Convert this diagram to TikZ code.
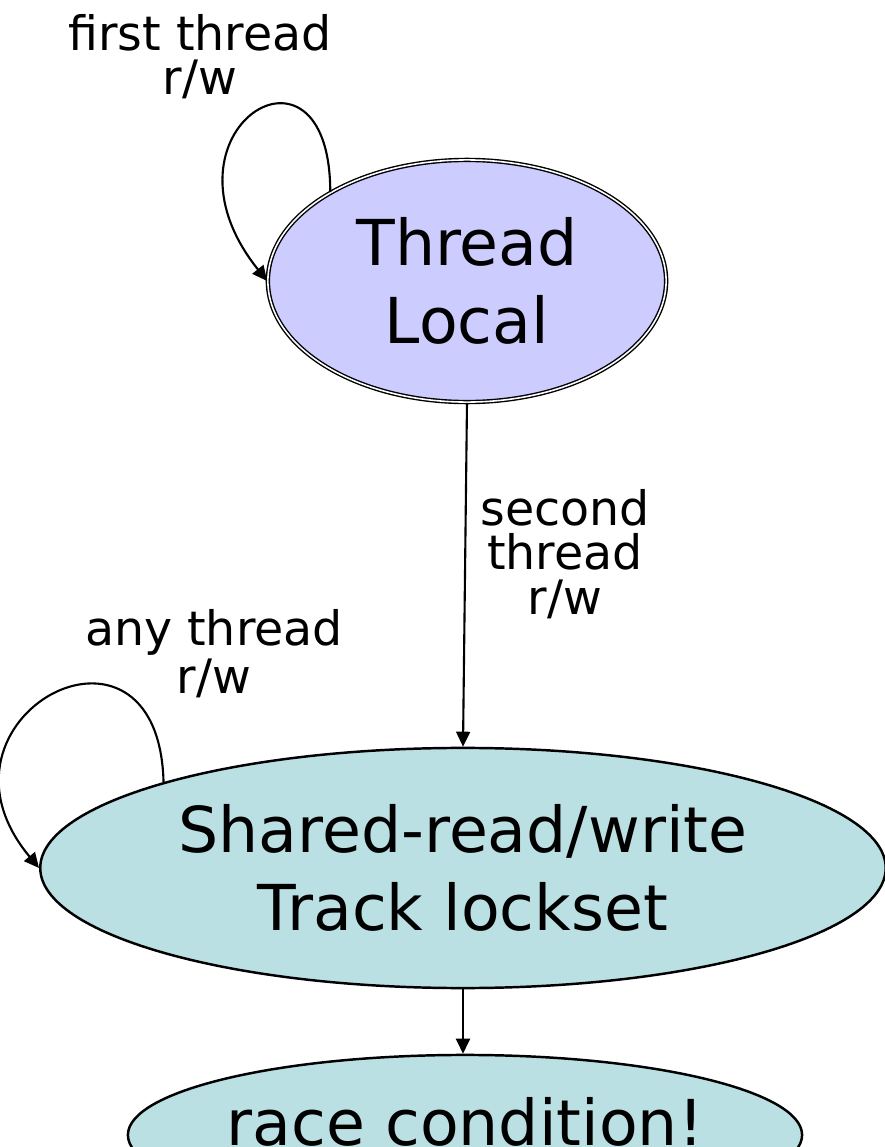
\documentclass[tikz,border=0pt]{standalone}
\usepackage{fontspec}
\setmainfont{DejaVu Sans}
\usepackage{tikz}
\usetikzlibrary{shapes.geometric,arrows.meta}
\definecolor{etatlocal}{HTML}{CCCCFF}
\definecolor{etatpartage}{HTML}{BBE0E3}

\begin{document}
\begin{tikzpicture}[x=0.01cm, y=0.01cm,
  etat/.style={ellipse, draw=black, line width=0.7pt, inner sep=0pt, align=center,
    font=\fontsize{18}{22}\selectfont},
  etiq/.style={align=center, inner sep=0pt, font=\fontsize{13.5}{12.6}\selectfont},
  fleche/.style={-{Triangle[length=0.15cm,width=0.14cm]}, line width=0.6pt}]
  \useasboundingbox (0,0) rectangle (885,1147);
  % --- Etats ---
  \node[etat, line width=0.4pt, double, double distance=0.45pt, fill=etatlocal,
    minimum width=3.98cm, minimum height=2.42cm] (local) at (467,866) {Thread\\Local};
  \node[etat, fill=etatpartage, minimum width=8.45cm, minimum height=2.4cm]
    (partage) at (463,279) {Shared-read/write\\Track lockset};
  \node[etat, fill=etatpartage, minimum width=6.62cm, minimum height=1.6cm,
    text depth=7.5pt] (course) at (465,12) {race condition!};
  % --- Etiquettes ---
  \node[etiq] (lblpremier) at (200,1090) {first thread\\r/w};
  \node[etiq] (lblsecond) at (565,593) {second\\thread\\r/w};
  \node[etiq] (lblautre) at (214,493) {any thread\\r/w};
  % --- Transitions ---
  \draw[fleche] (local.147) .. controls +(0,175) and +(-120,150) .. (local.west);
  \draw[fleche] (local.south) -- (partage.north);
  \draw[fleche] (partage.164) .. controls +(-5,195) and +(-125,150) .. (partage.west);
  \draw[fleche] (partage.south) -- (partage.south |- course.north);
\end{tikzpicture}
\end{document}
